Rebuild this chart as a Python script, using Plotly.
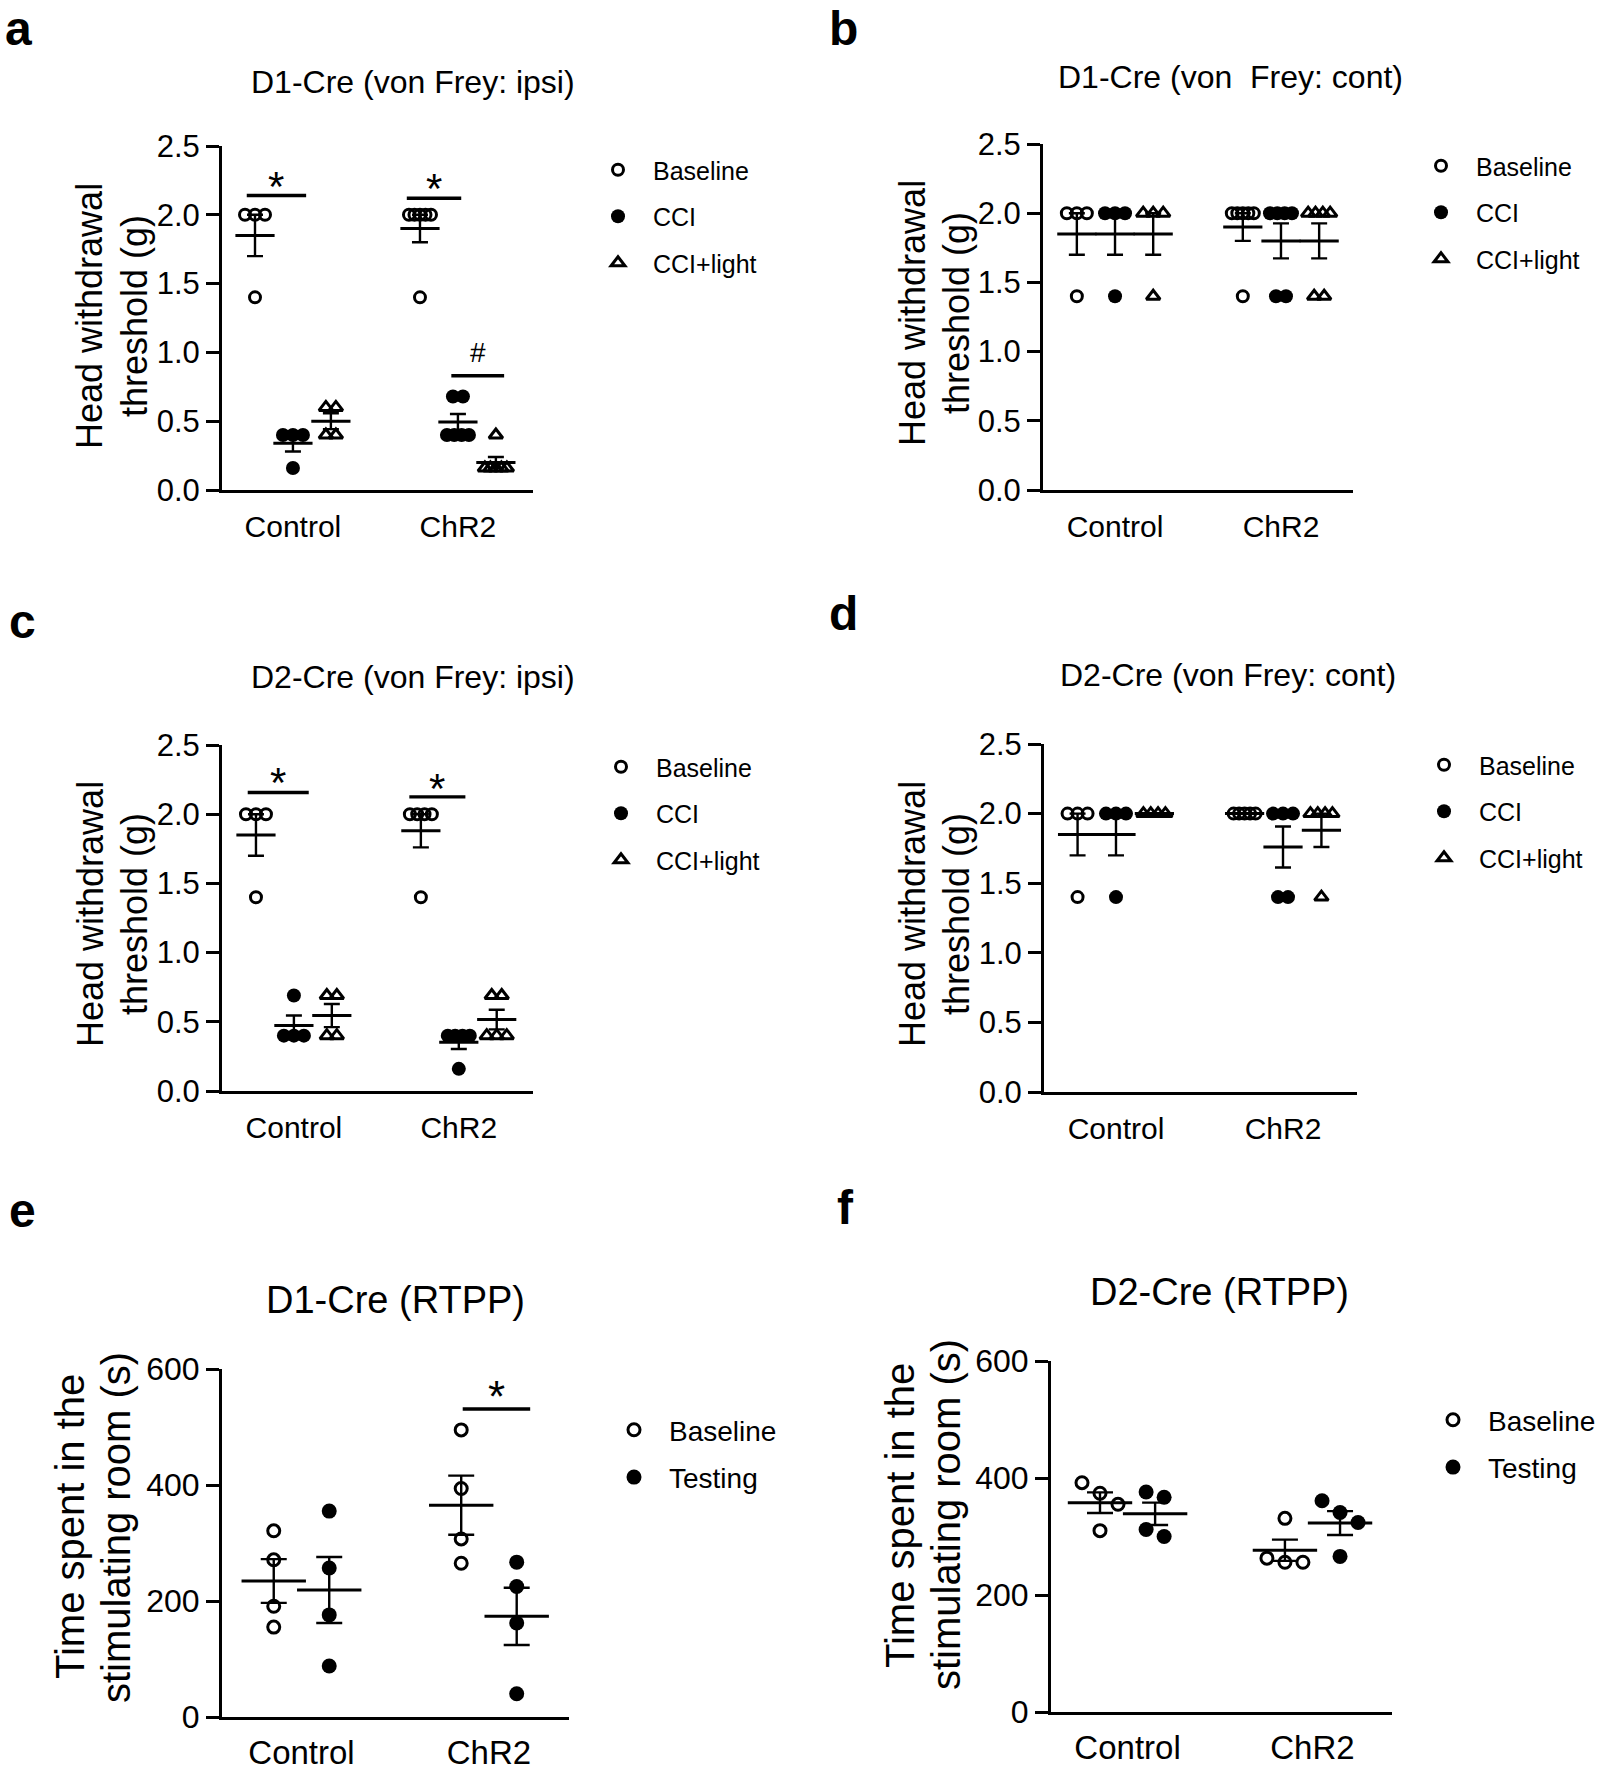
import numpy as np
import plotly.graph_objects as go

W, H = 1598, 1770
FONT = "Liberation Sans, Arial, Helvetica, sans-serif"

groups = ["Control", "ChR2"]
vf_conditions = ["Baseline", "CCI", "CCI+light"]
rtpp_conditions = ["Baseline", "Testing"]

# ---------------- data ----------------
# a: D1-Cre (von Frey: ipsi), threshold (g)
a_baseline_control = [2.0, 2.0, 2.0, 1.4]
a_cci_control = [0.4, 0.4, 0.4, 0.16]
a_light_control = [0.6, 0.6, 0.4, 0.4]
a_baseline_chr2 = [2.0, 2.0, 2.0, 2.0, 2.0, 1.4]
a_cci_chr2 = [0.68, 0.68, 0.4, 0.4, 0.4, 0.4]
a_light_chr2 = [0.4, 0.16, 0.16, 0.16, 0.16, 0.16]

# b: D1-Cre (von Frey: cont)
b_baseline_control = [2.0, 2.0, 2.0, 1.4]
b_cci_control = [2.0, 2.0, 2.0, 1.4]
b_light_control = [2.0, 2.0, 2.0, 1.4]
b_baseline_chr2 = [2.0, 2.0, 2.0, 2.0, 2.0, 1.4]
b_cci_chr2 = [2.0, 2.0, 2.0, 2.0, 1.4, 1.4]
b_light_chr2 = [2.0, 2.0, 2.0, 2.0, 1.4, 1.4]

# c: D2-Cre (von Frey: ipsi)
c_baseline_control = [2.0, 2.0, 2.0, 1.4]
c_cci_control = [0.69, 0.4, 0.4, 0.4]
c_light_control = [0.69, 0.69, 0.4, 0.4]
c_baseline_chr2 = [2.0, 2.0, 2.0, 2.0, 1.4]
c_cci_chr2 = [0.4, 0.4, 0.4, 0.4, 0.16]
c_light_chr2 = [0.69, 0.69, 0.4, 0.4, 0.4]

# d: D2-Cre (von Frey: cont)
d_baseline_control = [2.0, 2.0, 2.0, 1.4]
d_cci_control = [2.0, 2.0, 2.0, 1.4]
d_light_control = [2.0, 2.0, 2.0, 2.0]
d_baseline_chr2 = [2.0, 2.0, 2.0, 2.0, 2.0]
d_cci_chr2 = [2.0, 2.0, 2.0, 1.4, 1.4]
d_light_chr2 = [2.0, 2.0, 2.0, 2.0, 1.4]

# e: D1-Cre (RTPP), time (s)
e_baseline_control = [321, 271, 191, 155]
e_testing_control = [355, 257, 176, 88]
e_baseline_chr2 = [495, 394, 307, 265]
e_testing_chr2 = [267, 225, 162, 40]

# f: D2-Cre (RTPP), time (s)
f_baseline_control = [374, 392, 355, 310]
f_testing_control = [367, 376, 312, 300]
f_baseline_chr2 = [331, 256, 263, 256]
f_testing_chr2 = [341, 361, 324, 266]

# significance marks: (x0, x1, y_bar, label, y_label)
a_sig = [(-0.28, 0.08, 2.14, "*", 2.30), (0.69, 1.02, 2.12, "*", 2.28), (0.96, 1.28, 0.83, "#", 1.00)]
c_sig = [(-0.28, 0.09, 2.157, "*", 2.32), (0.70, 1.04, 2.125, "*", 2.28)]
e_sig = [(0.86, 1.22, 531, "*", 576)]

vf_ylabel = ["Head withdrawal", "threshold (g)"]
rtpp_ylabel = ["Time spent in the", "stimulating room (s)"]
vf_ticks = [0.0, 0.5, 1.0, 1.5, 2.0, 2.5]
rtpp_ticks = [0, 200, 400, 600]

panels = [
    dict(letter="a", title="D1-Cre (von Frey: ipsi)", conds=vf_conditions,
         data=[(a_baseline_control, a_baseline_chr2), (a_cci_control, a_cci_chr2), (a_light_control, a_light_chr2)],
         sig=a_sig, px=(222, 533, 146, 490), xr=(-0.43, 1.455), ymax=2.5, yticks=vf_ticks, yfmt=".1f",
         offs=[-0.23, 0.0, 0.23], title_xy=(413, 82), letter_xy=(18, 28),
         ylab=vf_ylabel, ylab_x=(89, 134), ylab_y=316, leg=(617, 171), kind="vf"),
    dict(letter="b", title="D1-Cre (von\u00a0 Frey: cont)", conds=vf_conditions,
         data=[(b_baseline_control, b_baseline_chr2), (b_cci_control, b_cci_chr2), (b_light_control, b_light_chr2)],
         sig=[], px=(1043, 1353, 144, 490), xr=(-0.434, 1.434), ymax=2.5, yticks=vf_ticks, yfmt=".1f",
         offs=[-0.23, 0.0, 0.23], title_xy=(1230, 77), letter_xy=(843, 28),
         ylab=vf_ylabel, ylab_x=(912, 956), ylab_y=313, leg=(1440, 167), kind="vf"),
    dict(letter="c", title="D2-Cre (von Frey: ipsi)", conds=vf_conditions,
         data=[(c_baseline_control, c_baseline_chr2), (c_cci_control, c_cci_chr2), (c_light_control, c_light_chr2)],
         sig=c_sig, px=(222, 533, 745, 1091), xr=(-0.436, 1.45), ymax=2.5, yticks=vf_ticks, yfmt=".1f",
         offs=[-0.23, 0.0, 0.23], title_xy=(413, 677), letter_xy=(22, 621),
         ylab=vf_ylabel, ylab_x=(90, 134), ylab_y=914, leg=(620, 768), kind="vf"),
    dict(letter="d", title="D2-Cre (von Frey: cont)", conds=vf_conditions,
         data=[(d_baseline_control, d_baseline_chr2), (d_cci_control, d_cci_chr2), (d_light_control, d_light_chr2)],
         sig=[], px=(1044, 1357, 744, 1092), xr=(-0.431, 1.443), ymax=2.5, yticks=vf_ticks, yfmt=".1f",
         offs=[-0.23, 0.0, 0.23], title_xy=(1228, 675), letter_xy=(843, 613),
         ylab=vf_ylabel, ylab_x=(912, 956), ylab_y=914, leg=(1443, 766), kind="vf"),
    dict(letter="e", title="D1-Cre (RTPP)", conds=rtpp_conditions,
         data=[(e_baseline_control, e_baseline_chr2), (e_testing_control, e_testing_chr2)],
         sig=e_sig, px=(222, 569, 1369, 1717), xr=(-0.424, 1.427), ymax=600, yticks=rtpp_ticks, yfmt="d",
         offs=[-0.148, 0.148], title_xy=(395, 1300), letter_xy=(22, 1210),
         ylab=rtpp_ylabel, ylab_x=(70, 116), ylab_y=1527, leg=(633, 1432), kind="rtpp"),
    dict(letter="f", title="D2-Cre (RTPP)", conds=rtpp_conditions,
         data=[(f_baseline_control, f_baseline_chr2), (f_testing_control, f_testing_chr2)],
         sig=[], px=(1051, 1392, 1361, 1712), xr=(-0.414, 1.43), ymax=600, yticks=rtpp_ticks, yfmt="d",
         offs=[-0.149, 0.149], title_xy=(1219, 1292), letter_xy=(845, 1207),
         ylab=rtpp_ylabel, ylab_x=(900, 946), ylab_y=1515, leg=(1452, 1422), kind="rtpp"),
]

kind_style = {
    "vf": dict(tick_fs=31, cat_fs=30, title_fs=32, ylab_fs=36, leg_fs=25, leg_gap=11, leg_top=24,
               mean_w=28, cap=8, spacing=10, maxspan=22, dia=13, sig_fs=42, standoff=8),
    "rtpp": dict(tick_fs=32, cat_fs=33, title_fs=38, ylab_fs=40, leg_fs=28, leg_gap=8, leg_top=27,
                 mean_w=46, cap=13, spacing=18, maxspan=36, dia=14, sig_fs=44, standoff=4),
}


def marker_style(cond, kind):
    big = 1 if kind == "rtpp" else 0
    if cond == "Baseline":
        return dict(symbol="circle-open", size=11 + big, color="black", line=dict(width=3, color="black"))
    if cond in ("CCI", "Testing"):
        return dict(symbol="circle", size=14 + big, color="black", line=dict(width=0))
    return dict(symbol="triangle-up-open", size=12, color="black", line=dict(width=3, color="black"))


def swarm_offsets(vals, px_per_y, dia, spacing, maxspan):
    vals = np.asarray(vals, float)
    order = np.argsort(-vals, kind="stable")
    offs = np.zeros(len(vals))
    clusters, cur = [], [order[0]]
    for i in order[1:]:
        if abs(vals[cur[-1]] - vals[i]) * px_per_y < dia:
            cur.append(i)
        else:
            clusters.append(cur)
            cur = [i]
    clusters.append(cur)
    for c in clusters:
        n = len(c)
        if n > 1:
            s = min(spacing, maxspan / (n - 1))
            for k, idx in enumerate(c):
                offs[idx] = (k - (n - 1) / 2) * s
    return offs


fig = go.Figure()
annotations = []
shapes = []
layout = {}

for pi, p in enumerate(panels):
    n = pi + 1
    st = kind_style[p["kind"]]
    xa = "x" if n == 1 else f"x{n}"
    ya = "y" if n == 1 else f"y{n}"
    xk = "xaxis" if n == 1 else f"xaxis{n}"
    yk = "yaxis" if n == 1 else f"yaxis{n}"
    lk = "legend" if n == 1 else f"legend{n}"
    x0, x1, y0, y1 = p["px"]
    px_per_x = (x1 - x0) / (p["xr"][1] - p["xr"][0])
    px_per_y = (y1 - y0) / p["ymax"]

    # points
    for ci, cond in enumerate(p["conds"]):
        xs, ys = [], []
        for gi, vals in enumerate(p["data"][ci]):
            center = gi + p["offs"][ci]
            o = swarm_offsets(vals, px_per_y, st["dia"], st["spacing"], st["maxspan"])
            xs += list(center + o / px_per_x)
            ys += list(vals)
        fig.add_trace(go.Scatter(x=xs, y=ys, mode="markers", name=cond, xaxis=xa, yaxis=ya,
                                 marker=marker_style(cond, p["kind"]), cliponaxis=False,
                                 legend=lk, legendgroup=f"{p['letter']}-{cond}", showlegend=True,
                                 hoverinfo="skip"))
    # mean +/- SEM
    for ci, cond in enumerate(p["conds"]):
        mx, my, me = [], [], []
        for gi, vals in enumerate(p["data"][ci]):
            v = np.asarray(vals, float)
            mx.append(gi + p["offs"][ci])
            my.append(v.mean())
            me.append(v.std(ddof=1) / np.sqrt(len(v)))
        fig.add_trace(go.Scatter(x=mx, y=my, mode="markers", xaxis=xa, yaxis=ya, showlegend=False,
                                 marker=dict(symbol="line-ew", size=st["mean_w"], color="black",
                                             line=dict(width=3, color="black")),
                                 error_y=dict(type="data", array=me, visible=True, color="black",
                                              thickness=2.4, width=st["cap"]),
                                 cliponaxis=False, hoverinfo="skip"))
    # significance
    for (sx0, sx1, sy, lab, ly) in p["sig"]:
        shapes.append(dict(type="line", xref=xa, yref=ya, x0=sx0, x1=sx1, y0=sy, y1=sy,
                           line=dict(color="black", width=3.4)))
        fs = st["sig_fs"] if lab == "*" else 28
        annotations.append(dict(xref=xa, yref=ya, x=(sx0 + sx1) / 2, y=ly, text=lab, showarrow=False,
                                font=dict(size=fs, family=FONT, color="black"),
                                yshift=-0.3 * fs if lab == "*" else 0))

    layout[xk] = dict(domain=[x0 / W, x1 / W], range=list(p["xr"]), anchor=ya, showline=True,
                      linewidth=3, linecolor="black", ticks="", tickvals=[0, 1], ticktext=groups,
                      tickfont=dict(size=st["cat_fs"], family=FONT, color="black"),
                      ticklabelstandoff=st["standoff"], showgrid=False, zeroline=False, fixedrange=True)
    layout[yk] = dict(domain=[1 - y1 / H, 1 - y0 / H], range=[0, p["ymax"]], anchor=xa, showline=True,
                      linewidth=3, linecolor="black", ticks="outside", ticklen=13, tickwidth=3,
                      tickcolor="black", tickvals=p["yticks"],
                      ticktext=[format(t, p["yfmt"]) if p["yfmt"] != "d" else str(int(t)) for t in p["yticks"]],
                      tickfont=dict(size=st["tick_fs"], family=FONT, color="black"),
                      showgrid=False, zeroline=False, fixedrange=True)
    lx, ly = p["leg"]
    layout[lk] = dict(x=(lx - 34) / W, y=1 - (ly - st["leg_top"]) / H, xanchor="left", yanchor="top",
                      font=dict(size=st["leg_fs"], family=FONT, color="black"),
                      bgcolor="rgba(0,0,0,0)", borderwidth=0, tracegroupgap=st["leg_gap"],
                      itemsizing="trace", itemwidth=60)

    # title, panel letter, y-axis title
    tx, ty = p["title_xy"]
    annotations.append(dict(xref="paper", yref="paper", x=tx / W, y=1 - ty / H, text=p["title"],
                            showarrow=False, xanchor="center", yanchor="middle",
                            font=dict(size=st["title_fs"], family=FONT, color="black")))
    lx2, ly2 = p["letter_xy"]
    annotations.append(dict(xref="paper", yref="paper", x=lx2 / W, y=1 - ly2 / H, text=f"<b>{p['letter']}</b>",
                            showarrow=False, xanchor="center", yanchor="middle",
                            font=dict(size=48, family=FONT, color="black")))
    for li, line in enumerate(p["ylab"]):
        annotations.append(dict(xref="paper", yref="paper", x=p["ylab_x"][li] / W, y=1 - p["ylab_y"] / H,
                                text=line, textangle=-90, showarrow=False, xanchor="center", yanchor="middle",
                                font=dict(size=st["ylab_fs"], family=FONT, color="black")))

fig.update_layout(width=W, height=H, margin=dict(l=0, r=0, t=0, b=0, autoexpand=False), autosize=False,
                  paper_bgcolor="white", plot_bgcolor="white", showlegend=True,
                  font=dict(family=FONT, color="black"),
                  annotations=annotations, shapes=shapes, **layout)

fig.write_html("out.html", config={"displayModeBar": False},
               post_script="document.body.style.margin='0';document.body.style.padding='0';")
